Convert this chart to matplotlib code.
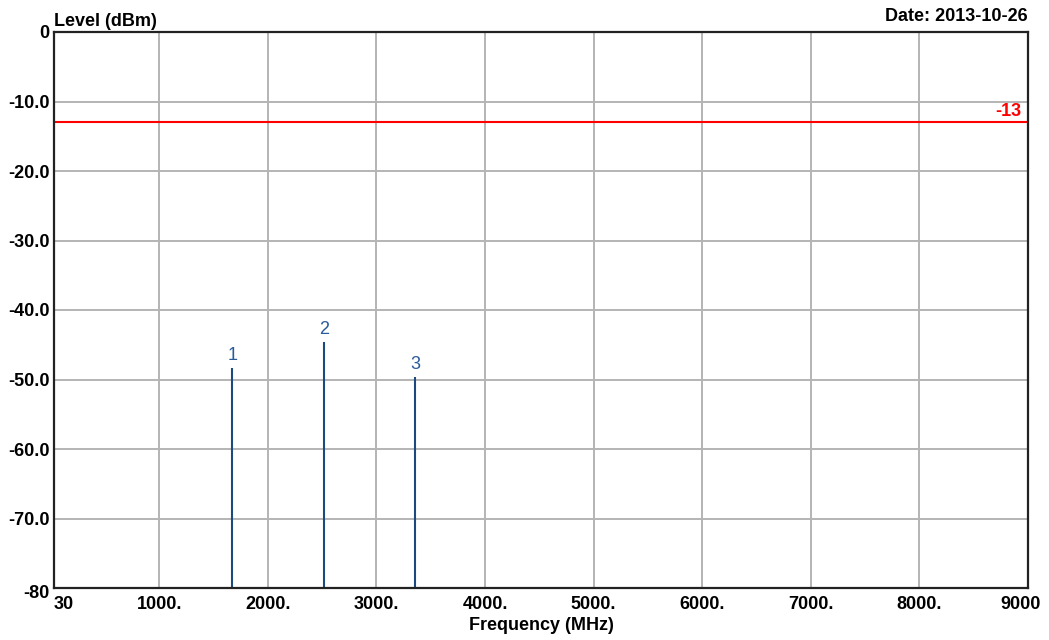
import matplotlib
matplotlib.use("Agg")
import matplotlib.pyplot as plt
import matplotlib.transforms as mtransforms

# Spectrum peaks
peak_freqs = [1672, 2517, 3355]       # MHz
peak_levels = [-48.3, -44.6, -49.7]   # dBm
peak_labels = ["1", "2", "3"]

limit_level = -13
x_ticks = [30, 1000, 2000, 3000, 4000, 5000, 6000, 7000, 8000, 9000]
x_tick_labels = ["30", "1000.", "2000.", "3000.", "4000.", "5000.",
                 "6000.", "7000.", "8000.", "9000"]
y_ticks = [0, -10, -20, -30, -40, -50, -60, -70, -80]
y_tick_labels = ["0", "-10.0", "-20.0", "-30.0", "-40.0", "-50.0",
                 "-60.0", "-70.0", "-80"]

plt.rcParams['font.family'] = ['Liberation Sans', 'DejaVu Sans']

fig = plt.figure(figsize=(10.49, 6.40), dpi=100)
ax = fig.add_axes([54 / 1049, 52 / 640, 974 / 1049, 556 / 640])

ax.set_xlim(30, 9000)
ax.set_ylim(-80, 0)

ax.set_xticks(x_ticks)
ax.set_xticklabels(x_tick_labels, fontsize=13, fontweight='bold')
ax.set_yticks(y_ticks)
ax.set_yticklabels(y_tick_labels, fontsize=13, fontweight='bold')
ax.tick_params(length=0, pad=3)
ax.tick_params(axis='x', pad=6)

# first and last x labels sit a little off the tick
xl = ax.get_xticklabels()
xl[0].set_horizontalalignment('left')
xl[-1].set_transform(xl[-1].get_transform() +
                     mtransforms.ScaledTranslation(-7 / 100, 0, fig.dpi_scale_trans))
yl = ax.get_yticklabels()
yl[-1].set_transform(yl[-1].get_transform() +
                     mtransforms.ScaledTranslation(0, -3 / 100, fig.dpi_scale_trans))

ax.grid(True, color='#b4b4b4', linewidth=1.4)
ax.set_axisbelow(True)
for s in ax.spines.values():
    s.set_color('#222222')
    s.set_linewidth(1.6)

# limit line
ax.axhline(limit_level, color='#ff0000', linewidth=1.5)
ax.annotate(str(limit_level), xy=(1, limit_level), xycoords=('axes fraction', 'data'),
            xytext=(-5, 2), textcoords='offset points', ha='right', va='bottom',
            color='#ff0000', fontsize=13, fontweight='bold')

# peaks
ax.vlines(peak_freqs, -80, peak_levels, color='#1c4a80', linewidth=1.5)
for f, lv, lab in zip(peak_freqs, peak_levels, peak_labels):
    ax.annotate(lab, xy=(f, lv), xytext=(0, 3), textcoords='offset points',
                ha='center', va='bottom', color='#2a5a9a', fontsize=13)

ax.set_xlabel('Frequency (MHz)', fontsize=13, fontweight='bold', labelpad=3)
ax.text(0, 1.004, 'Level (dBm)', transform=ax.transAxes, ha='left', va='bottom',
        fontsize=13, fontweight='bold')
ax.text(1, 1.012, 'Date: 2013-10-26', transform=ax.transAxes, ha='right', va='bottom',
        fontsize=13, fontweight='bold')

fig.savefig('out.png', dpi=100, facecolor='white')
